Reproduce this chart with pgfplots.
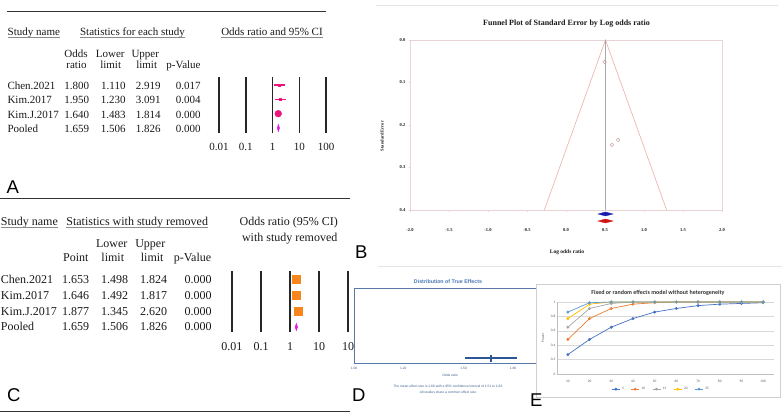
\documentclass[border=0pt]{standalone}
\usepackage{fontspec}
\setmainfont{Liberation Serif}
\newfontfamily\lsans{Liberation Sans}
\newfontfamily\carlito{Carlito}
\usepackage{pgfplots}
\pgfplotsset{compat=1.18}

\definecolor{txt}{HTML}{1A1A1A}
\definecolor{ulc}{HTML}{8A8A8A}
\definecolor{fpink}{HTML}{EC157C}
\definecolor{fmag}{HTML}{E01EE0}
\definecolor{forange}{HTML}{F7861C}
\definecolor{bframe}{HTML}{E8D4D4}
\definecolor{bfun}{HTML}{EAB0A8}
\definecolor{bcen}{HTML}{A8A8A8}
\definecolor{bpts}{HTML}{C9A3A3}
\definecolor{bblue}{HTML}{1A1AAF}
\definecolor{bred}{HTML}{D41414}
\definecolor{dframe}{HTML}{5878A8}
\definecolor{dtitle}{HTML}{4A76B8}
\definecolor{dline}{HTML}{2B5797}
\definecolor{dtext}{HTML}{3F5F8F}
\definecolor{eA}{HTML}{4472C4}
\definecolor{eB}{HTML}{ED7D31}
\definecolor{eC}{HTML}{A5A5A5}
\definecolor{eD}{HTML}{FFC000}
\definecolor{eE}{HTML}{5B9BD5}
\definecolor{egrid}{HTML}{D9D9D9}
\definecolor{eaxis}{HTML}{BFBFBF}
\definecolor{etext}{HTML}{595959}
\definecolor{eframe}{HTML}{D0D0D0}

\newcommand\fa{\fontsize{11}{13}\selectfont}
\newcommand\fc{\fontsize{12}{14}\selectfont}

\begin{document}
\begin{tikzpicture}[x=1pt,y=1pt]
\path[use as bounding box] (0,0) rectangle (784,416);
\fill[white] (0,0) rectangle (784,416);

% ---------------- Panel A ----------------
\draw[black!80, line width=1.2pt] (6.7,404.3) -- (326,404.3);
\draw[black!80, line width=1.2pt] (0,217.5) -- (350,217.5);
\draw[black!80, line width=1.2pt] (0,4.3) -- (350,4.3);

\begin{scope}[every node/.style={inner sep=0pt, text=txt, font=\fa}]
\node[anchor=base west] (a1) at (7.5,380) {Study name};
\node[anchor=base] (a2) at (132.5,380) {Statistics for each study};
\node[anchor=base] (a3) at (272,380) {Odds ratio and 95\% CI};
\foreach \n in {a1,a2,a3}{\draw[ulc, line width=0.8pt] ([yshift=-1.8pt]\n.base west) -- ([yshift=-1.8pt]\n.base east);}
\node[anchor=base] at (76,359) {Odds};
\node[anchor=base] at (76.5,347.5) {ratio};
\node[anchor=base] at (110.2,359) {Lower};
\node[anchor=base] at (110.7,347.5) {limit};
\node[anchor=base] at (145.3,359) {Upper};
\node[anchor=base] at (146.7,347.5) {limit};
\node[anchor=base] at (183.5,347.5) {p-Value};
\foreach \y/\nm/\a/\b/\c/\p in {326.7/Chen.2021/1.800/1.110/2.919/0.017,
  312.3/Kim.2017/1.950/1.230/3.091/0.004,
  298/Kim.J.2017/1.640/1.483/1.814/0.000,
  283.7/Pooled/1.659/1.506/1.826/0.000}{
  \node[anchor=base west] at (7.3,\y) {\nm};
  \node[anchor=base east] at (89.3,\y) {\a};
  \node[anchor=base east] at (125.7,\y) {\b};
  \node[anchor=base east] at (160.7,\y) {\c};
  \node[anchor=base east] at (200.7,\y) {\p};
}
\end{scope}

\begin{axis}[at={(272.5pt,311pt)}, anchor=center, scale only axis,
  width=107pt, height=56pt, xmode=log, xmin=0.01, xmax=100,
  ymin=0.65, ymax=4.56, ytick=\empty,
  xtick={0.01,0.1,1,10,100}, xticklabels={0.01,0.1,1,10,100},
  minor xtick={}, tick style={draw=none},
  axis line style={draw=none}, major tick length=0pt,
  xmajorgrids, major grid style={draw=black!85, line width=1.5pt},
  xticklabel style={font=\fa, text=txt, anchor=base, inner sep=0pt, yshift=-17pt},
  clip=false]
\addplot[fpink, line width=1.1pt] coordinates {(1.110,4) (2.919,4)};
\addplot[fpink, only marks, mark=square*, mark size=0.9pt] coordinates {(1.800,4)};
\addplot[fpink, line width=1.1pt] coordinates {(1.230,3) (3.091,3)};
\addplot[fpink, only marks, mark=square*, mark size=0.9pt] coordinates {(1.950,3)};
\addplot[fpink, line width=1.1pt] coordinates {(1.483,2) (1.814,2)};
\addplot[fpink, only marks, mark=*, mark size=3.4pt] coordinates {(1.640,2)};
\addplot[fmag, fill=fmag, line width=0.5pt] coordinates {(1.506,1) (1.659,1.24) (1.826,1) (1.659,0.76) (1.506,1)};
\end{axis}

\node[anchor=base west, inner sep=0pt, font=\lsans\fontsize{18.5}{20}\selectfont] at (6.5,222.7) {A};

% ---------------- Panel C ----------------
\begin{scope}[every node/.style={inner sep=0pt, text=txt, font=\fc}]
\node[anchor=base west] (c1) at (0.7,190.3) {Study name};
\node[anchor=base] (c2) at (137.2,190.3) {Statistics with study removed};
\foreach \n in {c1,c2}{\draw[ulc, line width=0.8pt] ([yshift=-2pt]\n.base west) -- ([yshift=-2pt]\n.base east);}
\node[anchor=base] at (288.8,190.3) {Odds ratio (95\% CI)};
\node[anchor=base] at (289.7,174.5) {with study removed};
\node[anchor=base] at (111.7,168.5) {Lower};
\node[anchor=base] at (150.3,168.5) {Upper};
\node[anchor=base] at (75.8,155) {Point};
\node[anchor=base] at (112.8,155) {limit};
\node[anchor=base] at (152.2,155) {limit};
\node[anchor=base] at (192.5,155) {p-Value};
\foreach \y/\nm/\a/\b/\c/\p in {132.7/Chen.2021/1.653/1.498/1.824/0.000,
  117/Kim.2017/1.646/1.492/1.817/0.000,
  101/Kim.J.2017/1.877/1.345/2.620/0.000,
  85.3/Pooled/1.659/1.506/1.826/0.000}{
  \node[anchor=base west] at (0.7,\y) {\nm};
  \node[anchor=base east] at (89.3,\y) {\a};
  \node[anchor=base east] at (128.3,\y) {\b};
  \node[anchor=base east] at (167.3,\y) {\c};
  \node[anchor=base east] at (211.7,\y) {\p};
}
\end{scope}

\begin{axis}[at={(290pt,114.5pt)}, anchor=center, scale only axis,
  width=116pt, height=61pt, xmode=log, xmin=0.01, xmax=100,
  ymin=0.6875, ymax=4.5, ytick=\empty,
  xtick={0.01,0.1,1,10,100}, xticklabels={0.01,0.1,1,10,10},
  minor xtick={}, tick style={draw=none},
  axis line style={draw=none}, major tick length=0pt,
  xmajorgrids, major grid style={draw=black!85, line width=1.5pt},
  xticklabel style={font=\fc, text=txt, anchor=base, inner sep=0pt, yshift=-18pt},
  clip=false]
\addplot[forange, line width=1pt] coordinates {(1.498,4) (1.824,4)};
\addplot[forange, only marks, mark=square*, mark size=3.9pt] coordinates {(1.653,4)};
\addplot[forange, line width=1pt] coordinates {(1.492,3) (1.817,3)};
\addplot[forange, only marks, mark=square*, mark size=3.9pt] coordinates {(1.646,3)};
\addplot[forange, line width=1pt] coordinates {(1.345,2) (2.620,2)};
\addplot[forange, only marks, mark=square*, mark size=4.1pt] coordinates {(1.877,2)};
\addplot[fmag, fill=fmag, line width=0.5pt] coordinates {(1.506,1) (1.659,1.22) (1.826,1) (1.659,0.78) (1.506,1)};
\end{axis}

\node[anchor=base west, inner sep=0pt, font=\lsans\fontsize{18.5}{20}\selectfont] at (7,14.3) {C};

% ---------------- Panel B ----------------
\draw[black!10, line width=0.6pt] (376,411) -- (778,411);
\draw[black!10, line width=0.6pt] (378,149.5) -- (782,149.5);
\node[anchor=base, inner sep=0pt, font=\bfseries\fontsize{8}{9}\selectfont, text=txt] at (566.5,390) {Funnel Plot of Standard Error by Log odds ratio};
\node[rotate=90, inner sep=0pt, font=\bfseries\fontsize{4.5}{5}\selectfont, text=txt] at (382,280) {Standard Error};
\node[anchor=base, inner sep=0pt, font=\bfseries\fontsize{5.5}{6}\selectfont, text=txt] at (567,163) {Log odds ratio};

\begin{axis}[at={(566pt,291pt)}, anchor=center, scale only axis,
  width=312pt, height=170pt, xmin=-2, xmax=2, ymin=0, ymax=0.4, y dir=reverse,
  axis line style={draw=bframe, line width=0.6pt},
  xtick={-2,-1.5,-1,-0.5,0,0.5,1,1.5,2},
  xticklabels={-2.0,-1.5,-1.0,-0.5,0.0,0.5,1.0,1.5,2.0},
  ytick={0,0.1,0.2,0.3,0.4}, yticklabels={0.0,0.1,0.2,0.3,0.4},
  tick style={draw=bframe}, tick align=outside, major tick length=1.5pt,
  xtick pos=left, ytick pos=left,
  xticklabel style={font=\bfseries\fontsize{4.5}{5}\selectfont, text=txt, anchor=base, inner sep=0pt, yshift=-20pt},
  yticklabel style={font=\bfseries\fontsize{4.5}{5}\selectfont, text=txt, anchor=east, inner sep=0pt, xshift=-3pt},
  clip=false]
\addplot[bfun, line width=0.6pt] coordinates {(-0.278,0.4) (0.506,0) (1.290,0.4)};
\addplot[bcen, line width=0.6pt] coordinates {(0.506,0) (0.506,0.4)};
\addplot[bpts, only marks, mark=o, mark size=1.8pt, line width=0.5pt] coordinates {(0.495,0.0514) (0.588,0.2467) (0.668,0.2351)};
\addplot[bblue, fill=bblue, line width=0.3pt] coordinates {(0.409,0.4094) (0.506,0.4047) (0.603,0.4094) (0.506,0.4141) (0.409,0.4094)};
\addplot[bred, fill=bred, line width=0.3pt] coordinates {(0.409,0.4259) (0.506,0.4212) (0.603,0.4259) (0.506,0.4306) (0.409,0.4259)};
\end{axis}

\node[anchor=base west, inner sep=0pt, font=\lsans\fontsize{18.5}{20}\selectfont] at (355,157.7) {B};

% ---------------- Panel D ----------------
\node[anchor=base, inner sep=0pt, font=\lsans\bfseries\fontsize{5.3}{6}\selectfont, text=dtitle] at (448,133) {Distribution of True Effects};
\begin{axis}[at={(445pt,90.5pt)}, anchor=center, scale only axis,
  width=182pt, height=75pt,
  x coord trafo/.code={\pgfmathparse{ln(#1)}},
  x coord inv trafo/.code={\pgfmathparse{exp(#1)}},
  xmin=1, xmax=1.96, ymin=0, ymax=1,
  ytick=\empty, xtick={1,1.2,1.5,1.8}, xticklabels={1.00,1.20,1.50,1.80},
  axis line style={draw=dframe, line width=0.8pt}, major tick length=0pt,
  xticklabel style={font=\lsans\fontsize{3.3}{4}\selectfont, text=dtext, anchor=base, inner sep=0pt, yshift=-6.5pt},
  clip=false]
\addplot[dline, line width=1.6pt] coordinates {(1.51,0.067) (1.83,0.067)};
\addplot[dline, line width=1.2pt] coordinates {(1.66,0.02) (1.66,0.113)};
\end{axis}
\node[anchor=base, inner sep=0pt, font=\lsans\fontsize{3.3}{4}\selectfont, text=dtext] at (450,40) {Odds ratio};
\node[anchor=base, inner sep=0pt, font=\lsans\fontsize{3.3}{4}\selectfont, text=dtext] at (448,28.5) {The mean effect size is 1.66 with a 95\% confidence interval of 1.51 to 1.83};
\node[anchor=base, inner sep=0pt, font=\lsans\fontsize{3.3}{4}\selectfont, text=dtext] at (448,22.5) {All studies share a common effect size};
\node[anchor=base west, inner sep=0pt, font=\lsans\fontsize{18.5}{20}\selectfont] at (352,14.3) {D};

% ---------------- Panel E ----------------
\filldraw[fill=white, draw=eframe, line width=0.6pt] (536,19) rectangle (780,132);
\node[anchor=base, inner sep=0pt, font=\carlito\bfseries\fontsize{6}{7}\selectfont, text=black!80] at (658,122) {Fixed or random effects model without heterogeneity};
\node[rotate=90, inner sep=0pt, font=\carlito\fontsize{3.5}{4}\selectfont, text=etext] at (543,78) {Power};
\begin{axis}[at={(665.5pt,78pt)}, anchor=center, scale only axis,
  width=217pt, height=72pt, xmin=5, xmax=105, ymin=0, ymax=1,
  xtick={10,20,30,40,50,60,70,80,90,100},
  xticklabels={10,20,30,40,50,60,70,80,90,100},
  ytick={0,0.2,0.4,0.6,0.8,1}, yticklabels={0,0.2,0.4,0.6,0.8,1},
  axis x line*=bottom, axis y line*=left,
  axis line style={draw=eaxis, line width=0.6pt}, major tick length=0pt,
  ymajorgrids, major grid style={draw=egrid, line width=0.4pt},
  xticklabel style={font=\carlito\fontsize{3.5}{4}\selectfont, text=etext, anchor=base, inner sep=0pt, yshift=-8pt},
  yticklabel style={font=\carlito\fontsize{3.5}{4}\selectfont, text=etext, anchor=east, inner sep=0pt, xshift=-1.5pt},
  legend columns=5,
  legend style={at={(0.48,-0.21)}, anchor=center, draw=none, fill=none, inner sep=0pt,
    font=\carlito\fontsize{3.5}{4}\selectfont, text=etext,
    /tikz/every even column/.append style={column sep=5pt}},
  legend image code/.code={\draw[mark repeat=2,mark phase=2,#1] plot coordinates {(0pt,0pt) (4pt,0pt) (8pt,0pt)};},
  every axis plot/.append style={line width=0.7pt, mark=*, mark size=1.1pt},
  clip=false]
\addplot[eA, mark options={fill=eA}] coordinates {(10,0.27) (20,0.48) (30,0.65) (40,0.77) (50,0.86) (60,0.91) (70,0.95) (80,0.97) (90,0.98) (100,0.99)};
\addplot[eB, mark options={fill=eB}] coordinates {(10,0.48) (20,0.77) (30,0.91) (40,0.97) (50,0.99) (60,1) (70,1) (80,1) (90,1) (100,1)};
\addplot[eC, mark options={fill=eC}] coordinates {(10,0.65) (20,0.91) (30,0.98) (40,1) (50,1) (60,1) (70,1) (80,1) (90,1) (100,1)};
\addplot[eD, mark options={fill=eD}] coordinates {(10,0.77) (20,0.97) (30,1) (40,1) (50,1) (60,1) (70,1) (80,1) (90,1) (100,1)};
\addplot[eE, mark options={fill=eE}] coordinates {(10,0.86) (20,0.99) (30,1) (40,1) (50,1) (60,1) (70,1) (80,1) (90,1) (100,1)};
\legend{5,10,15,20,25}
\end{axis}
\node[anchor=base west, inner sep=0pt, font=\lsans\fontsize{18.5}{20}\selectfont] at (530,9.3) {E};

\end{tikzpicture}
\end{document}
